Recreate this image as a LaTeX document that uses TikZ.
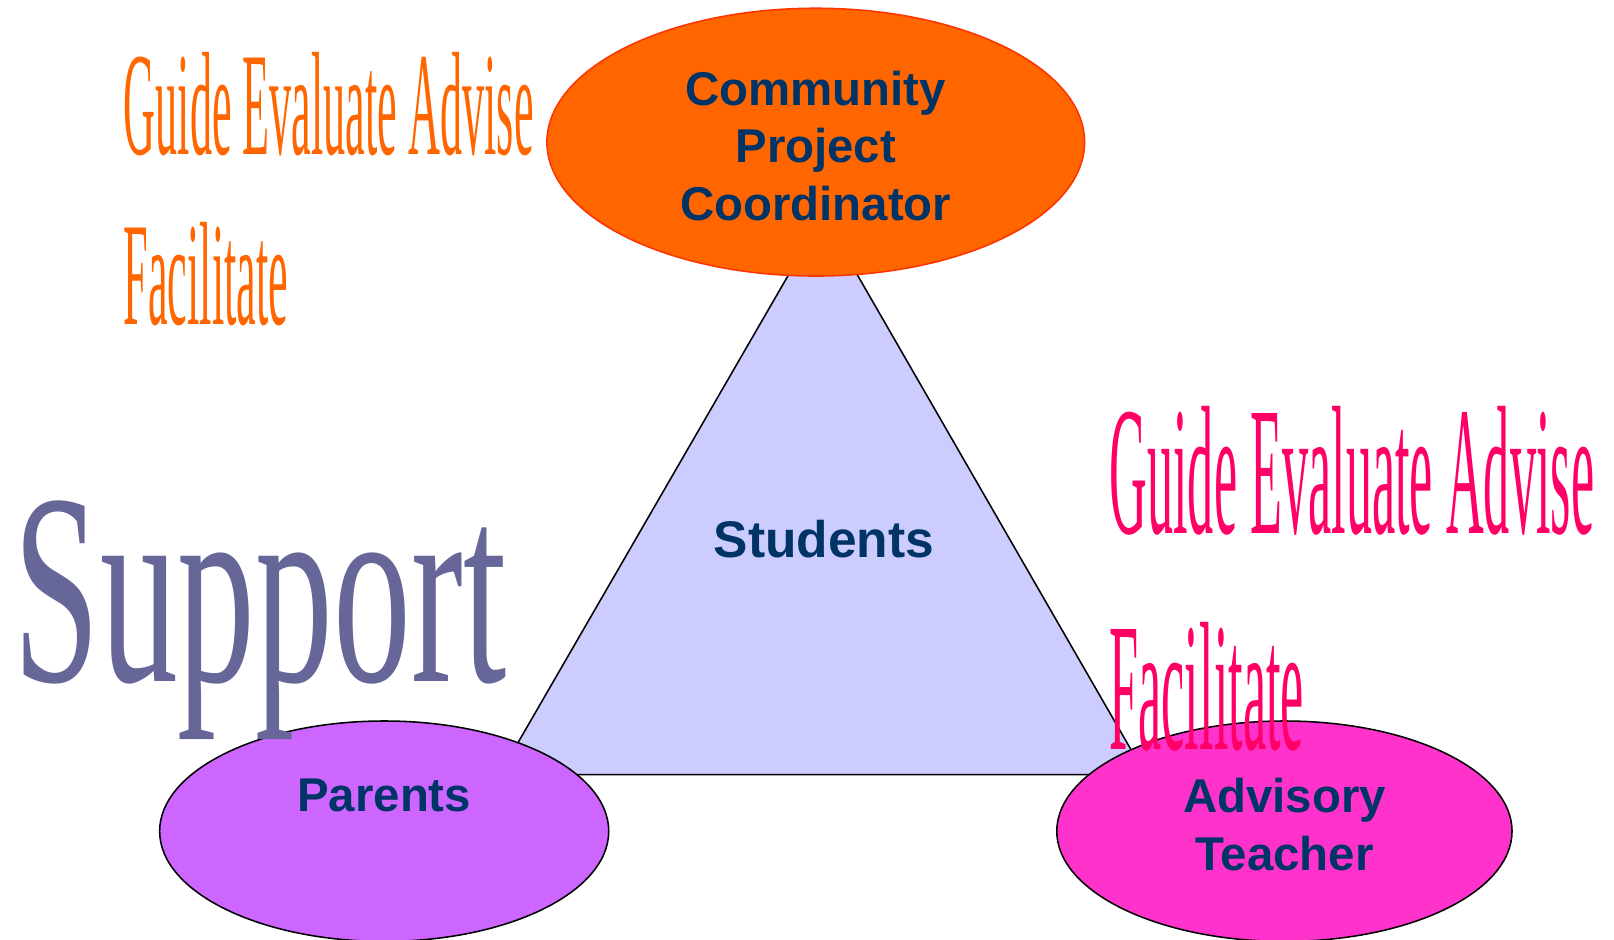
\documentclass[tikz,border=0pt]{standalone}
\usepackage{fontspec}
\usepackage{graphicx}
\setmainfont{Liberation Serif}
\newfontfamily\arialf{Liberation Sans}
\usetikzlibrary{shapes.geometric}
\definecolor{cporange}{HTML}{FF6600}
\definecolor{cpedge}{HTML}{FF3300}
\definecolor{trifill}{HTML}{CCCCFF}
\definecolor{parfill}{HTML}{CC66FF}
\definecolor{advfill}{HTML}{FF33CC}
\definecolor{pinktext}{HTML}{FF0066}
\definecolor{suptext}{HTML}{666699}
\definecolor{navy}{HTML}{003366}
\tikzset{
  blob/.style={ellipse, inner sep=0pt, line width=1.5pt},
  lbl/.style={font=\arialf\bfseries\fontsize{46}{56}\selectfont, text=navy, align=center, inner sep=0pt},
  verb/.style={anchor=base west, inner sep=0pt},
}
\begin{document}
\begin{tikzpicture}[x=1pt,y=-1pt]
\useasboundingbox (0,0) rectangle (1567,912);
% triangle
\draw[fill=trifill, line width=1.5pt, line join=miter] (799,209) -- (485,752) -- (1112,752) -- cycle;
% ellipses
\node[blob, draw=cpedge, fill=cporange, minimum width=522pt, minimum height=260pt] (cpc) at (792,138) {};
\node[blob, draw=black, fill=parfill, minimum width=436pt, minimum height=214pt] (par) at (373,807) {};
\node[blob, draw=black, fill=advfill, minimum width=442pt, minimum height=214pt] (adv) at (1247,807) {};
% labels (base anchor = baseline of the last line)
\node[lbl, anchor=base] (cpct) at (792,214) {Community\\Project\\Coordinator};
\node[lbl, anchor=base, font=\arialf\bfseries\fontsize{50}{60}\selectfont] (stu) at (800,541) {Students};
\node[lbl, anchor=base] (part) at (373,788) {Parents};
\node[lbl, anchor=base] (advt) at (1247,845) {Advisory\\Teacher};
% verbs
\node[verb, text=cporange] (g1) at (120,150) {\scalebox{0.30}[1]{\fontsize{143}{143}\selectfont Guide Evaluate Advise}};
\node[verb, text=cporange] (f1) at (120,315) {\scalebox{0.30}[1]{\fontsize{143}{143}\selectfont Facilitate}};
\node[verb, text=pinktext] (g2) at (1077,518) {\scalebox{0.285}[1]{\fontsize{178}{178}\selectfont Guide Evaluate Advise}};
\node[verb, text=pinktext] (f2) at (1077,728) {\scalebox{0.285}[1]{\fontsize{178}{178}\selectfont Facilitate}};
\node[verb, text=suptext] (sup) at (13,662) {\scalebox{0.57}[1]{\fontsize{265}{265}\selectfont Support}};
\end{tikzpicture}
\end{document}
